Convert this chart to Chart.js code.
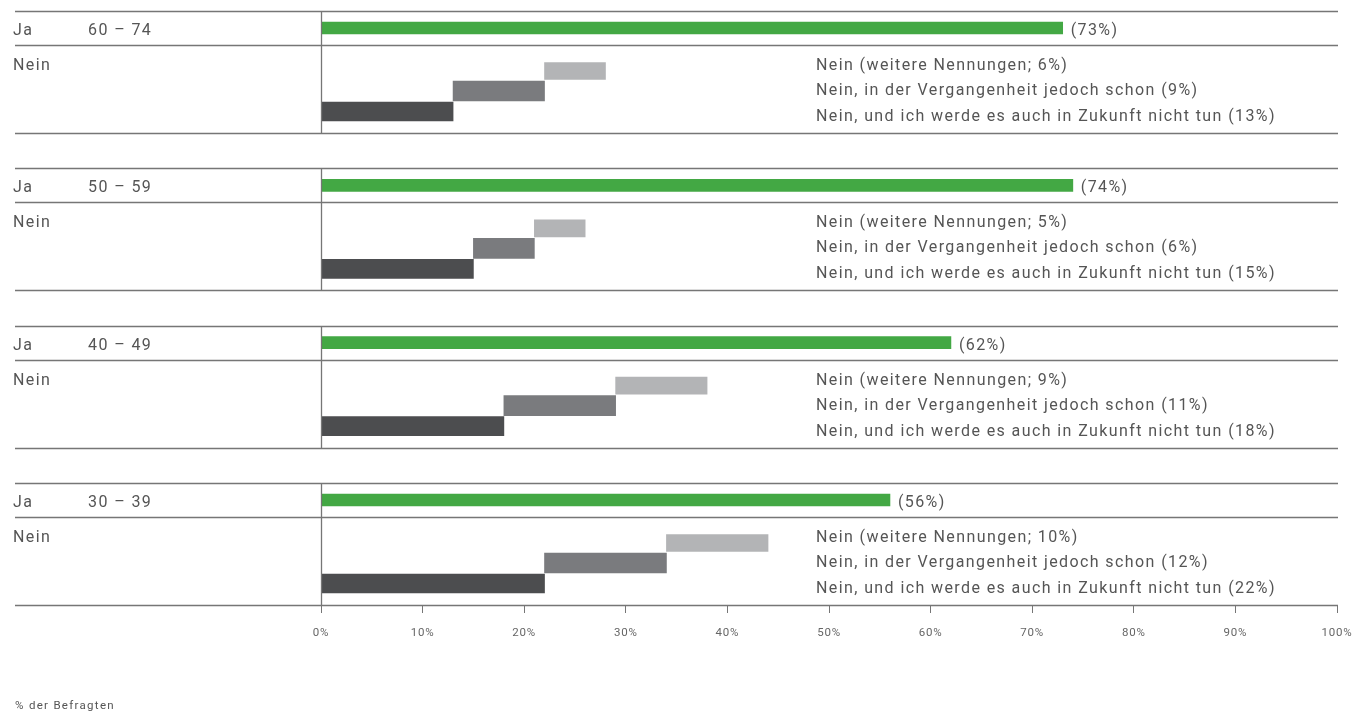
<!DOCTYPE html>
<html lang="de">
<head>
<meta charset="utf-8">
<title>Ja / Nein nach Altersgruppen</title>
<script src="https://cdn.jsdelivr.net/npm/chart.js@4/dist/chart.umd.min.js"></script>
<style>
  html, body { margin: 0; padding: 0; background: #fff; }
  #wrap { width: 1365px; height: 713px; }
</style>
</head>
<body>
<div id="wrap"><canvas id="ageChart" width="1365" height="713"></canvas></div>
<script>
// Altersgruppen und Anteile in %
const ageGroups = ['60 – 74', '50 – 59', '40 – 49', '30 – 39'];
const jaValues = [73, 74, 62, 56];
const neinNie = [13, 15, 18, 22];      // Nein, und ich werde es auch in Zukunft nicht tun
const neinFrueher = [9, 6, 11, 12];    // Nein, in der Vergangenheit jedoch schon
const neinWeitere = [6, 5, 9, 10];     // Nein (weitere Nennungen)
const xTicks = [0, 10, 20, 30, 40, 50, 60, 70, 80, 90, 100];

// Layout der Blöcke (Einheiten der y-Achse)
const GROUP_STEP = 157.3;
const ROW = { ja: 17, weitere: 60, frueher: 80, nie: 100.5, sep: 34, bottom: 122 };

const GREEN = '#43a844';
const DARK = '#4c4d4f';
const MID = '#7a7b7e';
const LIGHT = '#b3b4b6';
const TEXT = '#555555';
const LINE = '#767676';
const FONT = 'Roboto, "DejaVu Sans", sans-serif';

const rowY = (i, key) => i * GROUP_STEP + ROW[key];

const jaData = jaValues.map((v, i) => ({ x: [0, v], y: rowY(i, 'ja') }));
const nieData = neinNie.map((v, i) => ({ x: [0, v], y: rowY(i, 'nie') }));
const frueherData = neinFrueher.map((v, i) => ({ x: [neinNie[i], neinNie[i] + v], y: rowY(i, 'frueher') }));
const weitereData = neinWeitere.map((v, i) => {
    const start = neinNie[i] + neinFrueher[i];
    return { x: [start, start + v], y: rowY(i, 'weitere') };
});

// etwas Laufweite für die Achsenbeschriftung
const spacingPlugin = {
    id: 'letterSpacing',
    beforeDraw(chart) { chart.ctx.letterSpacing = '0.8px'; }
};

// Linien, Zeilenbeschriftungen und Werte
const blockPlugin = {
    id: 'blockLabels',
    afterDatasetsDraw(chart) {
        const { ctx, scales: { x, y } } = chart;
        const x0 = x.getPixelForValue(0);
        ctx.save();
        ctx.strokeStyle = LINE;
        ctx.lineWidth = 1.3;
        ageGroups.forEach((age, i) => {
            const top = Math.round(y.getPixelForValue(i * GROUP_STEP)) + 0.5;
            const sep = Math.round(y.getPixelForValue(rowY(i, 'sep'))) + 0.5;
            const bottom = Math.round(y.getPixelForValue(rowY(i, 'bottom'))) + 0.5;
            ctx.beginPath();
            [top, sep, bottom].forEach(py => {
                ctx.moveTo(15, py);
                ctx.lineTo(1338, py);
            });
            ctx.moveTo(Math.round(x0) + 0.5, top);
            ctx.lineTo(Math.round(x0) + 0.5, bottom);
            ctx.stroke();

            ctx.fillStyle = TEXT;
            ctx.font = '16px ' + FONT;
            ctx.textBaseline = 'middle';
            ctx.letterSpacing = '1.4px';
            const jaY = y.getPixelForValue(rowY(i, 'ja')) + 3;
            ctx.fillText('Ja', 13, jaY);
            ctx.fillText(age, 88, jaY);
            ctx.fillText('(' + jaValues[i] + '%)', x.getPixelForValue(jaValues[i]) + 8, jaY);

            const nY = y.getPixelForValue(i * GROUP_STEP) + 2;
            ctx.fillText('Nein', 13, nY + 53);
            ctx.fillText('Nein (weitere Nennungen; ' + neinWeitere[i] + '%)', 816, nY + 53);
            ctx.fillText('Nein, in der Vergangenheit jedoch schon (' + neinFrueher[i] + '%)', 816, nY + 78);
            ctx.fillText('Nein, und ich werde es auch in Zukunft nicht tun (' + neinNie[i] + '%)', 816, nY + 104);
        });

        ctx.font = '11.5px ' + FONT;
        ctx.letterSpacing = '1.3px';
        ctx.fillText('% der Befragten', 15, 706);
        ctx.restore();
    }
};

const barOpts = { grouped: false, barPercentage: 1, categoryPercentage: 1, borderWidth: 0 };

new Chart(document.getElementById('ageChart'), {
    type: 'bar',
    data: {
        datasets: [
            { label: 'Ja', data: jaData, backgroundColor: GREEN, maxBarThickness: 12, ...barOpts },
            { label: 'Nein, weitere Nennungen', data: weitereData, backgroundColor: LIGHT, maxBarThickness: 17, ...barOpts },
            { label: 'Nein, in der Vergangenheit jedoch schon', data: frueherData, backgroundColor: MID, maxBarThickness: 20, ...barOpts },
            { label: 'Nein, und ich werde es auch in Zukunft nicht tun', data: nieData, backgroundColor: DARK, maxBarThickness: 19, ...barOpts }
        ]
    },
    options: {
        indexAxis: 'y',
        responsive: false,
        animation: false,
        devicePixelRatio: 1,
        layout: { padding: { left: 321, right: 28, top: 11, bottom: 0 } },
        plugins: {
            legend: { display: false },
            tooltip: { enabled: false }
        },
        scales: {
            x: {
                type: 'linear',
                min: 0,
                max: 100,
                afterBuildTicks: scale => { scale.ticks = xTicks.map(v => ({ value: v })); },
                afterFit: scale => { scale.height = 108; },
                border: { display: false },
                grid: {
                    drawOnChartArea: false,
                    drawTicks: true,
                    tickLength: 8,
                    color: LINE,
                    lineWidth: 1
                },
                ticks: {
                    padding: 13,
                    color: '#666666',
                    font: { family: FONT, size: 11.5 },
                    callback: v => v + '%'
                }
            },
            y: {
                type: 'linear',
                reverse: true,
                offset: false,
                min: 0,
                max: 3 * GROUP_STEP + ROW.bottom,
                display: false,
                ticks: { stepSize: 100 }
            }
        }
    },
    plugins: [spacingPlugin, blockPlugin]
});
</script>
</body>
</html>
